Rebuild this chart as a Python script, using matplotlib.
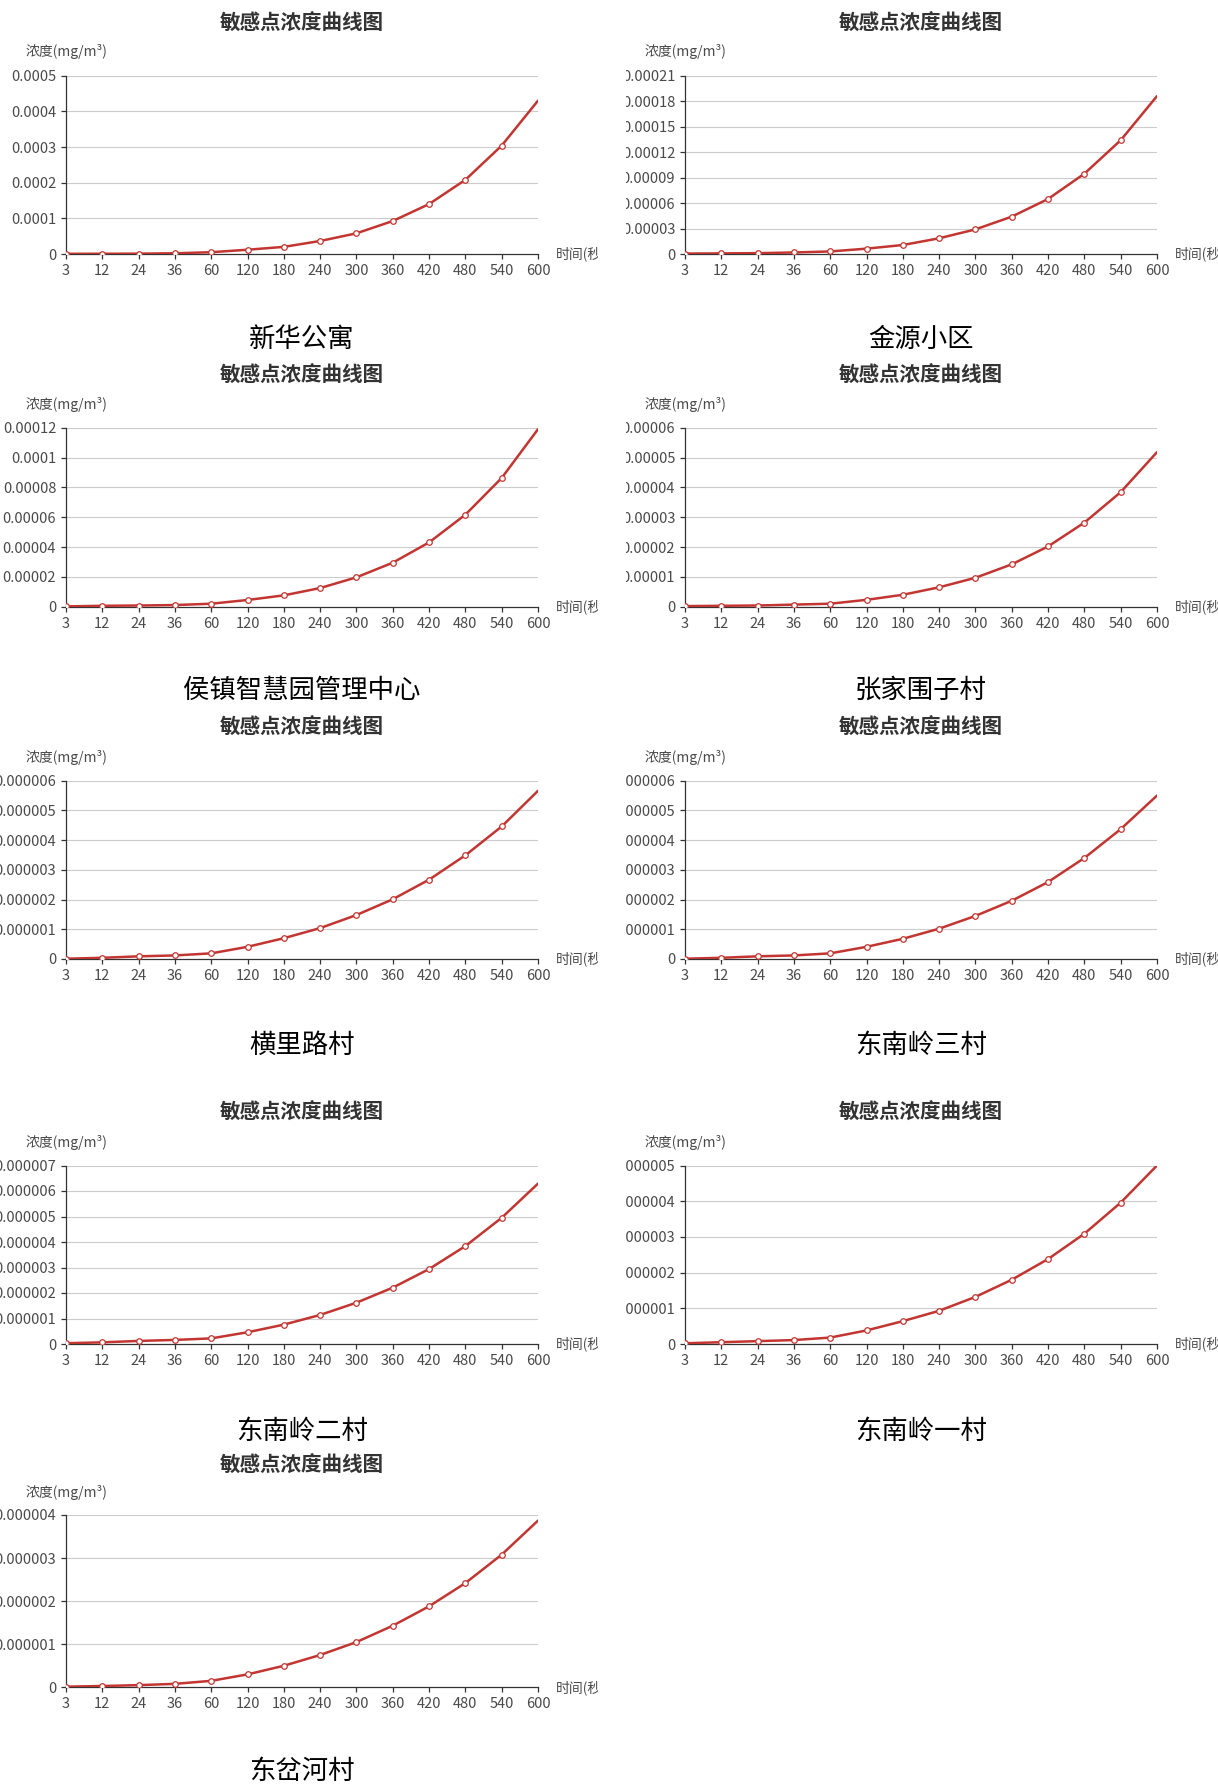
import numpy as np
import matplotlib
matplotlib.use('Agg')
import matplotlib.pyplot as plt
from matplotlib.patches import Rectangle

plt.rcParams['font.family'] = ['Noto Sans CJK SC', 'DejaVu Sans']

# ---------------- data ----------------
times = ['3', '12', '24', '36', '60', '120', '180', '240', '300', '360',
         '420', '480', '540', '600']

names = ['新华公寓', '金源小区', '侯镇智慧园管理中心', '张家围子村', '横里路村',
         '东南岭三村', '东南岭二村', '东南岭一村', '东岔河村']

xinhua = [0.0000005, 0.0000007, 0.000001, 0.000002, 0.000005, 0.000012, 0.00002,
          0.0000365, 0.000058, 0.0000925, 0.00014, 0.000208, 0.000304, 0.00043]
jinyuan = [0.0000005, 0.0000007, 0.000001, 0.0000018, 0.000003, 0.0000063, 0.0000106,
           0.0000185, 0.000029, 0.000044, 0.0000648, 0.0000946, 0.000134, 0.000186]
houzhen = [0.0000002, 0.0000006, 0.0000008, 0.0000011, 0.000002, 0.0000045, 0.0000076,
           0.0000125, 0.0000197, 0.0000295, 0.0000431, 0.0000617, 0.0000863, 0.000119]
zhangjia = [0.0000002, 0.0000003, 0.0000004, 0.0000007, 0.000001, 0.0000023, 0.000004,
            0.0000065, 0.0000097, 0.0000142, 0.0000202, 0.0000282, 0.0000384, 0.0000518]
henglilu = [0.00000001, 0.00000004, 0.00000009, 0.00000012, 0.00000019, 0.00000041,
            0.0000007, 0.00000104, 0.00000148, 0.00000201, 0.00000267, 0.00000349,
            0.00000446, 0.00000566]
dnl_san = [0.00000001, 0.00000004, 0.00000009, 0.00000012, 0.00000019, 0.00000041,
           0.00000068, 0.00000102, 0.00000145, 0.00000196, 0.00000259, 0.0000034,
           0.00000437, 0.0000055]
dnl_er = [0.00000003, 0.000000065, 0.00000012, 0.00000016, 0.00000022, 0.00000046,
          0.00000076, 0.00000114, 0.00000162, 0.00000221, 0.00000294, 0.00000384,
          0.00000495, 0.00000629]
dnl_yi = [0.00000002, 0.00000005, 0.00000008, 0.00000011, 0.00000018, 0.00000038,
          0.00000064, 0.00000093, 0.00000132, 0.0000018, 0.00000238, 0.00000309,
          0.00000396, 0.000005]
dongcha = [0.000000015, 0.00000003, 0.00000005, 0.00000008, 0.00000015, 0.0000003,
           0.0000005, 0.00000075, 0.00000105, 0.00000143, 0.00000188, 0.00000242,
           0.00000308, 0.00000387]

series = [xinhua, jinyuan, houzhen, zhangjia, henglilu, dnl_san, dnl_er, dnl_yi, dongcha]

y_max = [0.0005, 0.00021, 0.00012, 0.00006, 0.000006, 0.000006, 0.000007, 0.000005, 0.000004]
y_step = [0.0001, 0.00003, 0.00002, 0.00001, 0.000001, 0.000001, 0.000001, 0.000001, 0.000001]

chart_title = '敏感点浓度曲线图'
y_name = '浓度(mg/m³)'
x_name = '时间(秒)'

# ---------------- layout (pixels) ----------------
W, H = 1218, 1787
col_x = [(66, 538), (685, 1157)]
rows = [  # axes top, axes bottom, title y, ylabel y, caption y
    (75.7, 254.0, 23.3, 51.7, 339.5),
    (427.7, 606.7, 375.0, 404.3, 690.0),
    (780.7, 959.0, 727.0, 757.3, 1045.0),
    (1165.5, 1344.0, 1112.0, 1142.3, 1431.7),
    (1515.0, 1687.3, 1465.0, 1492.7, 1771.7),
]

RED = '#c23531'
AXC = '#333333'
GRID = '#cccccc'
LBL = '#4a4a4a'

fig = plt.figure(figsize=(W / 100, H / 100), dpi=100)
fig.patch.set_facecolor('white')


def fmt(v):
    return np.format_float_positional(round(v, 12), trim='-')


for i, (name, vals) in enumerate(zip(names, series)):
    r, c = divmod(i, 2)
    top, bot, ty, yly, capy = rows[r]
    x0, x1 = col_x[c]
    ax = fig.add_axes([x0 / W, 1 - bot / H, (x1 - x0) / W, (bot - top) / H])
    idx = np.arange(len(times))
    ax.plot(idx, vals, color=RED, lw=1.8, zorder=3, solid_capstyle='round',
            solid_joinstyle='round')
    ax.plot(idx[:-1], vals[:-1], linestyle='none', marker='o', ms=4.0, mfc='white',
            mec=RED, mew=0.9, zorder=4)
    ax.set_xlim(0, len(times) - 1)
    ax.set_ylim(0, y_max[i])
    nt = int(round(y_max[i] / y_step[i]))
    yt = [k * y_step[i] for k in range(nt + 1)]
    ax.set_yticks(yt)
    ax.set_yticklabels([fmt(v) for v in yt])
    ax.set_xticks(idx)
    ax.set_xticklabels(times)
    for v in yt[1:]:
        ax.axhline(v, color=GRID, lw=0.8, zorder=1)
    for s in ['top', 'right']:
        ax.spines[s].set_visible(False)
    for s in ['left', 'bottom']:
        ax.spines[s].set_color(AXC)
        ax.spines[s].set_linewidth(0.9)
    ax.tick_params(axis='both', direction='out', length=3.6, width=0.9, color=AXC,
                   labelsize=10.5, labelcolor=LBL, pad=3.5)
    ax.set_facecolor('none')
    ax.annotate(x_name, xy=(1, 0), xycoords='axes fraction', xytext=(13, 0),
                textcoords='offset points', ha='left', va='center', fontsize=10,
                color=LBL, annotation_clip=False)
    cx = (x0 + x1) / 2
    fig.text(cx / W, 1 - ty / H, chart_title, ha='center', va='center', fontsize=14.8,
             fontweight='bold', color='#333333')
    fig.text(x0 / W, 1 - yly / H, y_name, ha='center', va='center', fontsize=10,
             color=LBL)
    fig.text(cx / W, 1 - capy / H, name, ha='center', va='center', fontsize=19,
             fontweight='light', color='black')

# blank gap between the two columns (each chart image is cropped at its edges)
fig.add_artist(Rectangle((598 / W, 0), 28 / W, 1, transform=fig.transFigure,
                         facecolor='white', edgecolor='none', zorder=50))

fig.savefig('out.png', dpi=100, facecolor='white')
